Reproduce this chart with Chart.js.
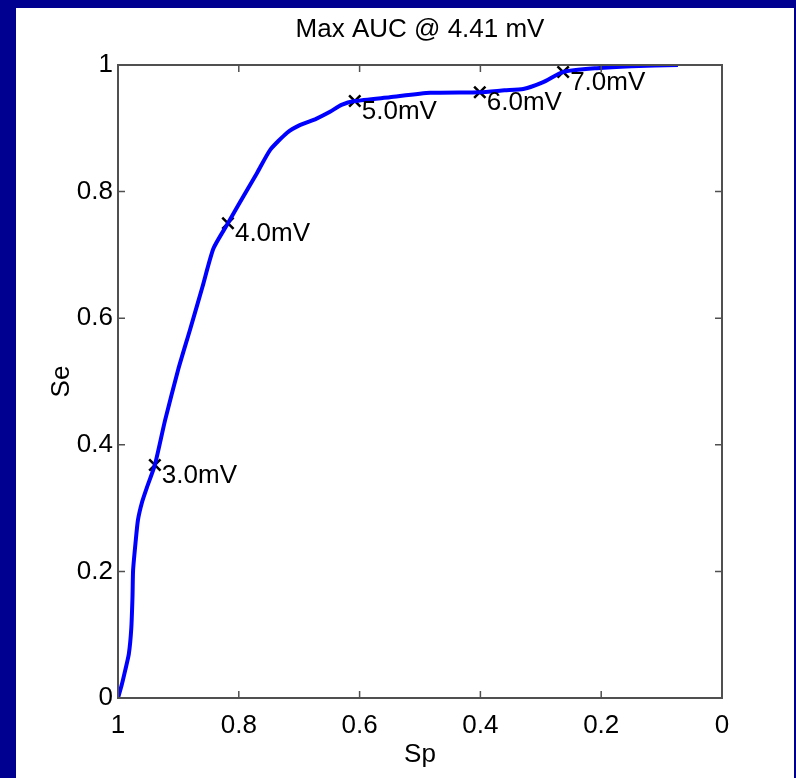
<!DOCTYPE html>
<html>
<head>
<meta charset="utf-8">
<script src="https://cdn.jsdelivr.net/npm/chart.js@4.4.1/dist/chart.umd.min.js"></script>
<style>
  html, body { margin: 0; padding: 0; background: #000090; }
  #wrap { position: absolute; left: 16px; top: 8px; width: 778px; height: 770px; background: #fff; }
</style>
</head>
<body>
<div id="wrap"><canvas id="rocChart" width="778" height="770"></canvas></div>
<script>
// ROC curve: specificity (x) vs sensitivity (y)
const sp = [1.000, 0.994, 0.988, 0.982, 0.978, 0.976, 0.975, 0.971, 0.967, 0.960, 0.952, 0.939,
            0.922, 0.900, 0.881, 0.860, 0.842, 0.818, 0.800, 0.786, 0.770, 0.748, 0.720, 0.699,
            0.672, 0.649, 0.630, 0.608, 0.550, 0.483, 0.401, 0.360, 0.329, 0.296, 0.263, 0.207,
            0.150, 0.073];
const se = [0.000, 0.020, 0.044, 0.070, 0.110, 0.160, 0.202, 0.245, 0.281, 0.310, 0.333, 0.368,
            0.439, 0.520, 0.581, 0.650, 0.710, 0.750, 0.780, 0.803, 0.829, 0.866, 0.893, 0.905,
            0.915, 0.926, 0.937, 0.943, 0.949, 0.956, 0.957, 0.960, 0.962, 0.973, 0.989, 0.995,
            0.998, 1.000];

// threshold markers
const markLabels = ['3.0mV', '4.0mV', '5.0mV', '6.0mV', '7.0mV'];
const markSp = [0.939, 0.818, 0.608, 0.401, 0.263];
const markSe = [0.368, 0.750, 0.943, 0.957, 0.989];

const xTicks = [1, 0.8, 0.6, 0.4, 0.2, 0];
const yTicks = [0, 0.2, 0.4, 0.6, 0.8, 1];

const FONT = "'Liberation Sans', Arial, sans-serif";
const FSIZE = 26;
const AXIS = '#505050';

// box round the plot with ticks pointing inwards, plus the marker labels
const framePlugin = {
  id: 'frame',
  afterDatasetsDraw(chart) {
    const ctx = chart.ctx;
    const a = chart.chartArea;
    const xs = chart.scales.x, ys = chart.scales.y;
    ctx.save();
    ctx.strokeStyle = AXIS;
    ctx.lineWidth = 2;
    ctx.strokeRect(a.left, a.top, a.right - a.left, a.bottom - a.top);
    ctx.lineWidth = 1.5;
    ctx.beginPath();
    xTicks.forEach(v => {
      const px = xs.getPixelForValue(v);
      ctx.moveTo(px, a.bottom); ctx.lineTo(px, a.bottom - 7);
      ctx.moveTo(px, a.top); ctx.lineTo(px, a.top + 7);
    });
    yTicks.forEach(v => {
      const py = ys.getPixelForValue(v);
      ctx.moveTo(a.left, py); ctx.lineTo(a.left + 7, py);
      ctx.moveTo(a.right, py); ctx.lineTo(a.right - 7, py);
    });
    ctx.stroke();

    ctx.fillStyle = '#000';
    ctx.font = FSIZE + 'px ' + FONT;
    ctx.textAlign = 'left';
    ctx.textBaseline = 'middle';
    const meta = chart.getDatasetMeta(1);
    meta.data.forEach((pt, i) => {
      ctx.fillText(markLabels[i], pt.x + 7, pt.y + 11);
    });
    ctx.restore();
  }
};

const rocData = {
  datasets: [{
    label: 'ROC',
    data: sp.map((v, i) => ({x: v, y: se[i]})),
    showLine: true,
    borderColor: '#0000ff',
    borderWidth: 4,
    pointRadius: 0,
    tension: 0.2
  }, {
    label: 'thresholds',
    data: markSp.map((v, i) => ({x: v, y: markSe[i]})),
    showLine: false,
    pointStyle: 'crossRot',
    pointRadius: 8,
    borderColor: '#000',
    borderWidth: 2.5
  }]
};

const rocConfig = {
  type: 'scatter',
  data: rocData,
  plugins: [framePlugin],
  options: {
    responsive: false,
    animation: false,
    layout: { padding: { left: 0, right: 72, top: 0, bottom: 0 } },
    plugins: {
      legend: { display: false },
      tooltip: { enabled: false },
      title: {
        display: true,
        fullSize: false,
        text: 'Max AUC @ 4.41 mV',
        color: '#000',
        font: { family: FONT, size: FSIZE, weight: 'normal' },
        padding: { top: 6, bottom: 19.8 }
      }
    },
    scales: {
      x: {
        type: 'linear',
        reverse: true,
        min: 0, max: 1,
        afterFit(scale) { scale.height = 80; },
        afterBuildTicks(scale) { scale.ticks = xTicks.map(v => ({value: v})); },
        grid: { display: false, drawTicks: false, tickLength: 0 },
        border: { display: false },
        ticks: { color: '#000', padding: 12, maxRotation: 0,
                 callback: v => String(v),
                 font: { family: FONT, size: FSIZE } },
        title: { display: true, text: 'Sp', color: '#000',
                 font: { family: FONT, size: FSIZE }, padding: { top: 0, bottom: 8 } }
      },
      y: {
        type: 'linear',
        min: 0, max: 1,
        afterFit(scale) { scale.width = 102; },
        afterBuildTicks(scale) { scale.ticks = yTicks.map(v => ({value: v})); },
        grid: { display: false, drawTicks: false, tickLength: 0 },
        border: { display: false },
        ticks: { color: '#000', padding: 5,
                 callback: v => String(v),
                 font: { family: FONT, size: FSIZE } },
        title: { display: true, text: 'Se', color: '#000',
                 font: { family: FONT, size: FSIZE }, padding: { top: 30, bottom: 0 } }
      }
    }
  }
};

const rocChart = new Chart(document.getElementById('rocChart'), rocConfig);
</script>
</body>
</html>
